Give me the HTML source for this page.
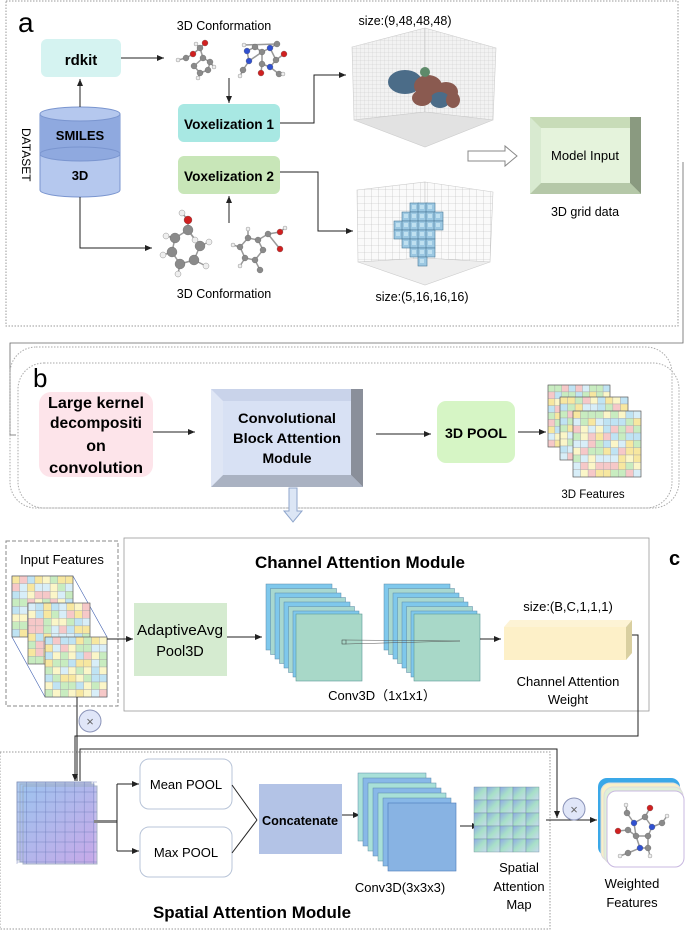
<!DOCTYPE html>
<html><head><meta charset="utf-8"><style>
body{margin:0;background:#fff}
svg{display:block;font-family:"Liberation Sans",sans-serif}
.b{font-weight:bold}
</style></head><body>
<svg id="s" width="685" height="930" viewBox="0 0 685 930" xmlns="http://www.w3.org/2000/svg">
<defs>
<marker id="ar" markerWidth="8" markerHeight="8" refX="7" refY="4" orient="auto" markerUnits="userSpaceOnUse"><path d="M0,1 L7,4 L0,7 Z" fill="#222"/></marker>
<pattern id="gr" width="4" height="4" patternUnits="userSpaceOnUse"><path d="M4,0 L0,0 0,4" fill="none" stroke="#c8c8c8" stroke-width="0.5"/></pattern>
<pattern id="gr2" width="7" height="7" patternUnits="userSpaceOnUse"><path d="M7,0 L0,0 0,7" fill="none" stroke="#bbb" stroke-width="0.6"/></pattern>
<linearGradient id="pg" x1="0" y1="0" x2="1" y2="1"><stop offset="0" stop-color="#9fc3ef"/><stop offset="1" stop-color="#c8a8e8"/></linearGradient>
<linearGradient id="sm" x1="0" y1="0" x2="1" y2="1"><stop offset="0" stop-color="#8fa9e6"/><stop offset="0.5" stop-color="#a8e0c8"/><stop offset="1" stop-color="#c8d8f0"/></linearGradient>
</defs>

<!-- PANEL A -->
<rect x="6" y="1" width="672" height="325" fill="none" stroke="#999" stroke-dasharray="1.5,1.5"/>
<text x="18" y="32" font-size="28">a</text>
<rect x="41" y="39" width="80" height="38" rx="6" fill="#d5f3f1"/>
<text x="81" y="65" font-size="15" class="b" text-anchor="middle">rdkit</text>
<path d="M40,114 L40,190 A40,7 0 0 0 120,190 L120,114" fill="#b5c8ee" stroke="#7a95cf"/>
<path d="M40,114 L40,154 A40,7 0 0 0 120,154 L120,114 Z" fill="#8fa9df"/>
<ellipse cx="80" cy="114" rx="40" ry="7" fill="#b5c8ee" stroke="#7a95cf"/>
<path d="M40,154 A40,7 0 0 0 120,154" fill="none" stroke="#7a95cf"/>
<path d="M40,154 A40,7 0 0 1 120,154" fill="none" stroke="#7a95cf"/>
<text x="80" y="140" font-size="13" class="b" text-anchor="middle">SMILES</text>
<text x="80" y="180" font-size="13" class="b" text-anchor="middle">3D</text>
<text transform="translate(22,128) rotate(90)" font-size="12">DATASET</text>
<line x1="80" y1="107" x2="80" y2="79" stroke="#222" marker-end="url(#ar)"/>
<polyline points="80,197 80,248 152,248" fill="none" stroke="#222" marker-end="url(#ar)"/>
<line x1="121" y1="58" x2="164" y2="58" stroke="#222" marker-end="url(#ar)"/>
<text x="224" y="30" font-size="12.5" text-anchor="middle">3D Conformation</text>
<text x="224" y="298" font-size="12.5" text-anchor="middle">3D Conformation</text>
<g id="mols"></g>
<line x1="229" y1="78" x2="229" y2="103" stroke="#222" marker-end="url(#ar)"/>
<line x1="229" y1="223" x2="229" y2="196" stroke="#222" marker-end="url(#ar)"/>
<rect x="178" y="104" width="102" height="38" rx="6" fill="#a8e8e3"/>
<text x="229" y="129" font-size="14" class="b" text-anchor="middle" textLength="90" lengthAdjust="spacingAndGlyphs">Voxelization 1</text>
<rect x="178" y="156" width="102" height="38" rx="6" fill="#c8e6b8"/>
<text x="229" y="181" font-size="14" class="b" text-anchor="middle" textLength="90" lengthAdjust="spacingAndGlyphs">Voxelization 2</text>
<polyline points="280,123 314,123 314,75 346,75" fill="none" stroke="#222" marker-end="url(#ar)"/>
<polyline points="280,172 318,172 318,231 353,231" fill="none" stroke="#222" marker-end="url(#ar)"/>
<text x="405" y="25" font-size="12.5" text-anchor="middle">size:(9,48,48,48)</text>
<g stroke="#ccc" stroke-width="0.6">
<polygon points="352,47 425,28 425,112 354,120" fill="#f2f2f2"/>
<polygon points="425,28 496,48 493,120 425,112" fill="#f2f2f2"/>
<polygon points="354,120 425,112 493,120 425,147" fill="#e2e2e2"/>
</g>
<polygon points="352,47 425,28 425,112 354,120" fill="url(#gr)"/>
<polygon points="425,28 496,48 493,120 425,112" fill="url(#gr)"/>
<g>
<ellipse cx="405" cy="82" rx="17" ry="12" fill="#4b6c88"/>
<ellipse cx="428" cy="86" rx="14" ry="11" fill="#8a5a50"/>
<ellipse cx="446" cy="92" rx="12" ry="10" fill="#8a5a50"/>
<ellipse cx="440" cy="100" rx="10" ry="8" fill="#4b6c88"/>
<ellipse cx="422" cy="98" rx="10" ry="8" fill="#8a5a50"/>
<ellipse cx="453" cy="100" rx="7" ry="8" fill="#8a5a50"/>
<circle cx="425" cy="72" r="5" fill="#5e8a6a"/>
</g>
<g stroke="#ccc" stroke-width="0.6">
<polygon points="357,190 425,182 425,258 358,262" fill="#fafafa"/>
<polygon points="425,182 493,192 490,262 425,258" fill="#fafafa"/>
<polygon points="358,262 425,258 490,262 425,285" fill="#eee"/>
</g>
<polygon points="357,190 425,182 425,258 358,262" fill="url(#gr2)"/>
<polygon points="425,182 493,192 490,262 425,258" fill="url(#gr2)"/>
<g id="vox"></g>
<text x="422" y="301" font-size="12.5" text-anchor="middle">size:(5,16,16,16)</text>
<path d="M468,151 L505,151 L505,146 L517,156 L505,166 L505,161 L468,161 Z" fill="#fff" stroke="#888"/>
<rect x="530" y="117" width="111" height="77" fill="#c8dcb8"/>
<polygon points="630,117 641,117 641,194 630,183" fill="#8a9a80"/>
<polygon points="530,194 641,194 630,183 541,183" fill="#b5c8a8"/>
<polygon points="530,117 541,128 541,183 530,194" fill="#d8ead0"/>
<rect x="541" y="128" width="89" height="55" fill="#e5f3dc"/>
<text x="585" y="160" font-size="13" text-anchor="middle">Model Input</text>
<text x="585" y="216" font-size="12.5" text-anchor="middle">3D grid data</text>
<polyline points="683,162 683,343 10,343 10,435 16,435" fill="none" stroke="#666" stroke-width="0.8"/>

<!-- PANEL B -->
<rect x="10" y="347" width="662" height="161" rx="26" fill="none" stroke="#aaa" stroke-dasharray="1.5,1.5"/>
<rect x="18" y="363" width="661" height="145" rx="26" fill="none" stroke="#aaa" stroke-dasharray="1.5,1.5"/>
<text x="33" y="387" font-size="26">b</text>
<rect x="39" y="392" width="114" height="85" rx="12" fill="#fde4ea"/>
<g font-size="16" class="b" text-anchor="middle"><text x="96" y="408" textLength="96" lengthAdjust="spacingAndGlyphs">Large kernel</text><text x="96" y="428" textLength="92" lengthAdjust="spacingAndGlyphs">decompositi</text><text x="96" y="451">on</text><text x="96" y="473" textLength="94" lengthAdjust="spacingAndGlyphs">convolution</text></g>
<line x1="153" y1="432" x2="195" y2="432" stroke="#222" marker-end="url(#ar)"/>
<rect x="211" y="389" width="152" height="98" fill="#c9d3ea"/>
<polygon points="351,389 363,389 363,487 351,475" fill="#8a8f9a"/>
<polygon points="211,487 363,487 351,475 223,475" fill="#aab2c2"/>
<polygon points="211,389 223,401 223,475 211,487" fill="#dfe6f5"/>
<rect x="223" y="401" width="128" height="74" fill="#d8e1f4"/>
<g font-size="14" class="b" text-anchor="middle"><text x="287" y="423" textLength="98" lengthAdjust="spacingAndGlyphs">Convolutional</text><text x="287" y="443" textLength="108" lengthAdjust="spacingAndGlyphs">Block Attention</text><text x="287" y="463">Module</text></g>
<line x1="376" y1="434" x2="431" y2="434" stroke="#222" marker-end="url(#ar)"/>
<rect x="437" y="401" width="78" height="62" rx="9" fill="#d6f5c5"/>
<text x="476" y="438" font-size="14" class="b" text-anchor="middle" textLength="62" lengthAdjust="spacingAndGlyphs">3D POOL</text>
<line x1="518" y1="432" x2="546" y2="432" stroke="#222" marker-end="url(#ar)"/>
<g id="feat3d"></g>
<text x="593" y="498" font-size="11.5" text-anchor="middle">3D Features</text>
<path d="M289,488 L297,488 L297,511 L302,511 L293,522 L284,511 L289,511 Z" fill="#dce6f5" stroke="#8fa6cc"/>

<!-- PANEL C -->
<rect x="6" y="541" width="112" height="165" fill="none" stroke="#888" stroke-dasharray="4,2"/>
<text x="62" y="564" font-size="13" text-anchor="middle">Input Features</text>
<rect x="124" y="538" width="525" height="173" fill="none" stroke="#999" stroke-width="0.8"/>
<text x="360" y="568" font-size="17" class="b" text-anchor="middle" textLength="210" lengthAdjust="spacingAndGlyphs">Channel Attention Module</text>
<text x="669" y="565" font-size="20" class="b">c</text>
<g id="infeat"></g>
<line x1="107" y1="639" x2="133" y2="639" stroke="#222" marker-end="url(#ar)"/>
<rect x="134" y="603" width="93" height="73" fill="#d5ebd0"/>
<text x="180" y="635" font-size="14.5" text-anchor="middle" textLength="86" lengthAdjust="spacingAndGlyphs">AdaptiveAvg</text>
<text x="180" y="656" font-size="14.5" text-anchor="middle">Pool3D</text>
<line x1="227" y1="637" x2="262" y2="637" stroke="#222" marker-end="url(#ar)"/>
<g id="conv1"></g>
<line x1="480" y1="639" x2="501" y2="639" stroke="#222" marker-end="url(#ar)"/>
<text x="568" y="611" font-size="13" text-anchor="middle">size:(B,C,1,1,1)</text>
<polygon points="504,627 626,627 632,620 632,653 626,660 504,660" fill="#d9cfa0"/>
<polygon points="504,627 510,620 632,620 626,627" fill="#fdf3d5"/>
<rect x="504" y="627" width="122" height="33" fill="#fdf0c8"/>
<text x="568" y="686" font-size="13" text-anchor="middle">Channel Attention</text>
<text x="568" y="704" font-size="13" text-anchor="middle">Weight</text>
<text x="382" y="700" font-size="13" text-anchor="middle">Conv3D（1x1x1）</text>
<polyline points="632,635 638,635 638,736 75,736 75,781" fill="none" stroke="#222" marker-end="url(#ar)"/>
<line x1="77" y1="697" x2="77" y2="781" stroke="#222"/>
<circle cx="90" cy="721" r="11" fill="#e0e6f8" stroke="#8a93b8"/>
<text x="90" y="726" font-size="13" text-anchor="middle" fill="#666">×</text>
<polyline points="80,781 80,749 557,749 557,818" fill="none" stroke="#222" marker-end="url(#ar)"/>
<rect x="0" y="752" width="550" height="177" fill="none" stroke="#999" stroke-dasharray="1.5,1.5"/>
<text x="252" y="918" font-size="17" class="b" text-anchor="middle" textLength="198" lengthAdjust="spacingAndGlyphs">Spatial Attention Module</text>
<g id="sfeat"></g>
<rect x="94" y="820" width="23" height="3" fill="#888"/>
<polyline points="117,784 117,851" fill="none" stroke="#222"/>
<line x1="117" y1="784" x2="139" y2="784" stroke="#222" marker-end="url(#ar)"/>
<line x1="117" y1="851" x2="139" y2="851" stroke="#222" marker-end="url(#ar)"/>
<rect x="140" y="759" width="92" height="50" rx="9" fill="#fff" stroke="#b8c4d8"/>
<text x="186" y="789" font-size="13" text-anchor="middle">Mean POOL</text>
<rect x="140" y="827" width="92" height="50" rx="9" fill="#fff" stroke="#b8c4d8"/>
<text x="186" y="857" font-size="13" text-anchor="middle">Max POOL</text>
<line x1="232" y1="785" x2="257" y2="820" stroke="#222"/>
<line x1="232" y1="853" x2="257" y2="820" stroke="#222"/>
<rect x="259" y="784" width="83" height="70" fill="#b3c3e6"/>
<text x="300" y="825" font-size="13" class="b" text-anchor="middle" textLength="76" lengthAdjust="spacingAndGlyphs">Concatenate</text>
<line x1="342" y1="815" x2="360" y2="815" stroke="#222" marker-end="url(#ar)"/>
<g id="conv2"></g>
<text x="400" y="892" font-size="13" text-anchor="middle">Conv3D(3x3x3)</text>
<line x1="460" y1="826" x2="479" y2="826" stroke="#222" marker-end="url(#ar)"/>
<g id="smap"></g>
<g font-size="13" text-anchor="middle"><text x="519" y="872">Spatial</text><text x="519" y="891">Attention</text><text x="519" y="909">Map</text></g>
<line x1="546" y1="820" x2="597" y2="820" stroke="#222" marker-end="url(#ar)"/>
<circle cx="574" cy="809" r="11" fill="#e0e6f8" stroke="#8a93b8"/>
<text x="574" y="814" font-size="13" text-anchor="middle" fill="#666">×</text>
<rect x="598" y="778" width="82" height="78" rx="9" fill="#3aa8e8"/>
<rect x="601" y="783" width="80" height="78" rx="9" fill="#f8f0c8" stroke="#ddd"/>
<rect x="604" y="787" width="79" height="77" rx="9" fill="#e0f0d8" stroke="#ddd"/>
<rect x="607" y="791" width="77" height="76" rx="9" fill="#fff" stroke="#c8b8e0"/>
<g id="wmol"></g>
<text x="632" y="888" font-size="13" text-anchor="middle">Weighted</text>
<text x="632" y="907" font-size="13" text-anchor="middle">Features</text>
</svg>
<script>
var NS="http://www.w3.org/2000/svg";
function el(p,t,a){var e=document.createElementNS(NS,t);for(var k in a)e.setAttribute(k,a[k]);document.getElementById(p).appendChild(e);return e;}
var seed=7;function rnd(){seed=(seed*9301+49297)%233280;return seed/233280;}
var pal=["#f7e7a0","#bfe3f3","#c8ecc0","#f6c8c8","#fbf6c8","#d8eef8"];
function mosaic(p,x,y,w,h,n){var cw=w/n,ch=h/n;el(p,"rect",{x:x,y:y,width:w,height:h,fill:"#fff"});
for(var i=0;i<n;i++)for(var j=0;j<n;j++)el(p,"rect",{x:x+i*cw,y:y+j*ch,width:cw,height:ch,fill:pal[Math.floor(rnd()*pal.length)],stroke:"#a8a8a8","stroke-width":0.4});
el(p,"rect",{x:x,y:y,width:w,height:h,fill:"none",stroke:"#555","stroke-width":0.6});}
mosaic("feat3d",548,385,62,62,9);mosaic("feat3d",560,397,68,63,9);mosaic("feat3d",573,411,68,66,9);
el("infeat","polygon",{points:"12,576 73,576 107,637 107,697 45,697 12,637",fill:"none",stroke:"#4060b0","stroke-width":0.6});
mosaic("infeat",12,576,61,61,8);mosaic("infeat",28,603,62,61,8);mosaic("infeat",45,637,62,60,8);
function stack(p,x0,y0,n,dx,dy,w,h,cols){for(var i=0;i<n;i++)el(p,"rect",{x:x0+i*dx,y:y0+i*dy,width:w,height:h,fill:cols[i%cols.length],stroke:"#5a8aa8","stroke-width":0.5});}
stack("conv1",266,584,7,4.5,4.5,66,66,["#7fc8ec","#a8d8d0"]);
el("conv1","rect",{x:296,y:614,width:66,height:67,fill:"#a8d8c8",stroke:"#5a9a98","stroke-width":0.6});
stack("conv1",384,584,7,4.5,4.5,66,66,["#7fc8ec","#a8d8d0"]);
el("conv1","rect",{x:414,y:614,width:66,height:67,fill:"#a8d8c8",stroke:"#5a9a98","stroke-width":0.6});
el("conv1","rect",{x:342,y:640,width:4,height:4,fill:"none",stroke:"#333","stroke-width":0.5});
el("conv1","polyline",{points:"346,640 460,641 346,644",fill:"none",stroke:"#555","stroke-width":0.5});
stack("conv2",358,773,6,5,5,68,68,["#a8e0d8","#88b8e8"]);
el("conv2","rect",{x:388,y:803,width:68,height:68,fill:"#88b3e3",stroke:"#4a78b8","stroke-width":0.6});
for(var i=0;i<3;i++){el("sfeat","rect",{x:17+i*3,y:782+i*2,width:74,height:78,fill:"url(#pg)",opacity:0.85,stroke:"#9ab"});}
for(var k=0;k<=8;k++){el("sfeat","line",{x1:17+k*9.6,y1:782,x2:17+k*9.6,y2:864,stroke:"#6a7ab8","stroke-width":0.4});el("sfeat","line",{x1:17,y1:782+k*10,x2:97,y2:782+k*10,stroke:"#6a7ab8","stroke-width":0.4});}
for(var i=0;i<5;i++)for(var j=0;j<5;j++)el("smap","rect",{x:474+i*13,y:787+j*13,width:13,height:13,fill:"url(#sm)",stroke:"#6a8a9a","stroke-width":0.4});
function atom(p,x,y,r,c){el(p,"circle",{cx:x,cy:y,r:r,fill:c,stroke:"#555","stroke-width":0.3});}
function mol(p,pts,bonds){bonds.forEach(function(b){el(p,"line",{x1:pts[b[0]][0],y1:pts[b[0]][1],x2:pts[b[1]][0],y2:pts[b[1]][1],stroke:"#999","stroke-width":1.5});});pts.forEach(function(a){atom(p,a[0],a[1],a[2],a[3]);});}
var G="#8a8a8a",H="#eee",R="#d02020",B="#3050d0";
mol("mols",[[178,60,2,H],[186,58,3,G],[193,54,3,R],[200,48,3,G],[205,43,3,R],[196,44,2,H],[203,58,3,G],[210,62,3,G],[208,70,3,G],[200,73,3,G],[194,66,3,G],[214,67,2,H],[198,78,2,H]],[[0,1],[1,2],[2,3],[3,4],[3,5],[3,6],[6,7],[7,8],[8,9],[9,10],[10,6],[7,11],[9,12]]);
mol("mols",[[247,51,3,B],[255,47,3,G],[262,52,3,G],[270,48,3,B],[277,44,3,G],[284,54,3,R],[276,60,3,G],[270,67,3,B],[262,64,3,G],[261,73,3,R],[249,61,3,B],[243,70,3,G],[279,74,3,G],[244,45,2,H],[283,74,2,H],[240,76,2,H]],[[0,1],[1,2],[2,3],[3,4],[3,6],[6,5],[6,7],[7,8],[8,2],[8,9],[2,10],[10,11],[10,0],[7,12],[12,14],[11,15],[4,13]]);
mol("mols",[[188,220,4,R],[182,213,3,H],[188,230,5,G],[175,238,5,G],[172,252,5,G],[180,264,5,G],[194,260,5,G],[200,246,5,G],[166,236,3,H],[163,255,3,H],[178,274,3,H],[206,266,3,H],[209,242,3,H],[195,240,3,H]],[[0,1],[0,2],[2,3],[3,4],[4,5],[5,6],[6,7],[7,2],[3,8],[4,9],[5,10],[6,11],[7,12],[2,13]]);
mol("mols",[[240,247,3,G],[248,238,3,G],[258,240,3,G],[263,250,3,G],[255,260,3,G],[245,258,3,G],[268,234,3,G],[280,232,3,R],[280,249,3,R],[233,245,2,H],[248,229,2,H],[240,266,2,H],[260,270,3,G],[285,228,2,H]],[[0,1],[1,2],[2,3],[3,4],[4,5],[5,0],[2,6],[6,7],[6,8],[0,9],[1,10],[5,11],[4,12],[7,13]]);
mol("wmol",[[627,813,3,G],[634,823,3,B],[645,817,3,G],[650,808,3,R],[652,827,3,B],[662,823,3,G],[648,836,3,G],[636,836,3,G],[628,830,3,G],[618,831,3,R],[640,848,3,B],[648,848,3,G],[628,853,3,G],[626,805,2,H],[667,816,2,H],[620,856,2,H],[650,856,2,H]],[[0,1],[1,2],[2,3],[2,4],[4,5],[4,6],[6,7],[7,1],[7,8],[8,9],[7,10],[10,11],[11,6],[10,12],[0,13],[5,14],[12,15],[11,16]]);
var cells=[[3,1],[4,1],[5,1],[2,2],[3,2],[4,2],[5,2],[6,2],[1,3],[2,3],[3,3],[4,3],[5,3],[6,3],[1,4],[2,4],[3,4],[4,4],[5,4],[2,5],[3,5],[4,5],[5,5],[3,6],[4,6],[5,6],[4,7]];
cells.forEach(function(c){var x=386+c[0]*8,y=194+c[1]*9;el("vox","rect",{x:x,y:y,width:9,height:9,fill:"#9cc8e2",stroke:"#4a7a98","stroke-width":0.6});el("vox","rect",{x:x+2,y:y+2,width:4,height:4,fill:"#bfe0f0"});});
</script>
</body></html>
